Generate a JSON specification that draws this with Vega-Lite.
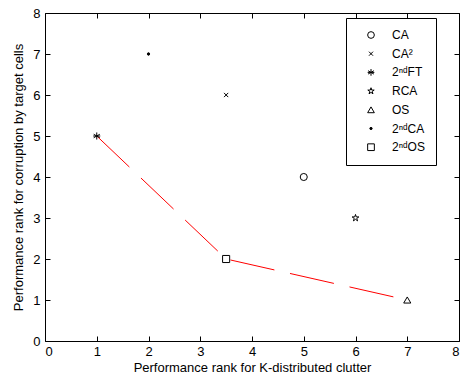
{
  "$schema": "https://vega.github.io/schema/vega-lite/v6.json",
  "width": 414,
  "height": 328,
  "autosize": "none",
  "padding": {"left": 45, "top": 13, "right": 1, "bottom": 38},
  "background": "white",
  "config": {
    "view": {"stroke": "black", "strokeWidth": 1},
    "font": "Liberation Sans",
    "axis": {
      "grid": false,
      "domain": false,
      "tickColor": "black",
      "tickSize": -5,
      "labelColor": "black",
      "labelFontSize": 13,
      "labelFont": "Liberation Sans",
      "titleFont": "Liberation Sans",
      "titleFontSize": 13,
      "titleFontWeight": "normal",
      "titleColor": "black"
    }
  },
  "datasets": {
    "pts": [
      {"method": "CA", "x": 5, "y": 4},
      {"method": "CA²", "x": 3.5, "y": 6},
      {"method": "2ⁿᵈFT", "x": 1, "y": 5},
      {"method": "RCA", "x": 6, "y": 3},
      {"method": "OS", "x": 7, "y": 1},
      {"method": "2ⁿᵈCA", "x": 2, "y": 7},
      {"method": "2ⁿᵈOS", "x": 3.5, "y": 2}
    ],
    "front": [
      {"order": 1, "x": 1, "y": 5},
      {"order": 2, "x": 3.5, "y": 2},
      {"order": 3, "x": 7, "y": 1}
    ]
  },
  "resolve": {"axis": {"x": "independent", "y": "independent"}},
  "layer": [
    {
      "data": {"name": "front"},
      "mark": {"type": "line", "color": "red", "strokeWidth": 1, "strokeDash": [45, 16]},
      "encoding": {
        "x": {"field": "x", "type": "quantitative", "scale": {"domain": [0, 8], "nice": false}, "axis": null},
        "y": {"field": "y", "type": "quantitative", "scale": {"domain": [0, 8], "nice": false}, "axis": null},
        "order": {"field": "order"}
      }
    },
    {
      "data": {"name": "pts"},
      "mark": {"type": "point", "filled": false, "color": "black", "strokeWidth": 1, "opacity": 1, "size": 50},
      "encoding": {
        "x": {"field": "x", "type": "quantitative", "scale": {"domain": [0, 8], "nice": false},
              "axis": {"orient": "bottom", "values": [0,1,2,3,4,5,6,7,8], "title": "Performance rank for K-distributed clutter", "labelPadding": 9, "titlePadding": 3}},
        "y": {"field": "y", "type": "quantitative", "scale": {"domain": [0, 8], "nice": false},
              "axis": {"orient": "left", "values": [0,1,2,3,4,5,6,7,8], "title": "Performance rank for corruption by target cells", "labelPadding": 10, "titlePadding": 7}},
        "fill": {
          "field": "method", "type": "nominal",
          "scale": {
            "domain": ["CA", "CA²", "2ⁿᵈFT", "RCA", "OS", "2ⁿᵈCA", "2ⁿᵈOS"],
            "range": ["transparent", "transparent", "transparent", "transparent", "transparent", "black", "transparent"]
          },
          "legend": null
        },
        "shape": {
          "field": "method", "type": "nominal",
          "scale": {
            "domain": ["CA", "CA²", "2ⁿᵈFT", "RCA", "OS", "2ⁿᵈCA", "2ⁿᵈOS"],
            "range": [
              "circle",
              "M-0.6,-0.6L0.6,0.6M-0.6,0.6L0.6,-0.6",
              "M0,-1L0,1M-0.87,-0.5L0.87,0.5M-0.87,0.5L0.87,-0.5M-1,0L1,0",
              "M0,-1L0.223,-0.307L0.951,-0.309L0.361,0.117L0.588,0.809L0,0.38L-0.588,0.809L-0.361,0.117L-0.951,-0.309L-0.223,-0.307Z",
              "triangle-up",
              "M-0.35,0A0.35,0.35 0 1,0 0.35,0A0.35,0.35 0 1,0 -0.35,0Z",
              "square"
            ]
          },
          "legend": {
            "orient": "none",
            "legendX": 301,
            "legendY": 5,
            "title": " ",
            "titleOrient": "left",
            "titlePadding": 8,
            "titleFontSize": 11,
            "strokeColor": "black",
            "fillColor": "white",
            "padding": 11,
            "labelOffset": 15,
            "rowPadding": 6.7,
            "labelFontSize": 12,
            "labelColor": "black",
            "labelFont": "Liberation Sans",
            "symbolStrokeColor": "black",
            "symbolStrokeWidth": 1,
            "symbolSize": 45,
            "symbolFillColor": "transparent"
          }
        }
      }
    },
    {
      "data": {"name": "pts"},
      "mark": {"type": "point", "opacity": 0},
      "encoding": {
        "x": {"field": "x", "type": "quantitative", "scale": {"domain": [0, 8], "nice": false},
              "axis": {"orient": "top", "values": [0,1,2,3,4,5,6,7,8], "labels": false, "title": null}},
        "y": {"field": "y", "type": "quantitative", "scale": {"domain": [0, 8], "nice": false},
              "axis": {"orient": "right", "values": [0,1,2,3,4,5,6,7,8], "labels": false, "title": null}}
      }
    }
  ]
}
